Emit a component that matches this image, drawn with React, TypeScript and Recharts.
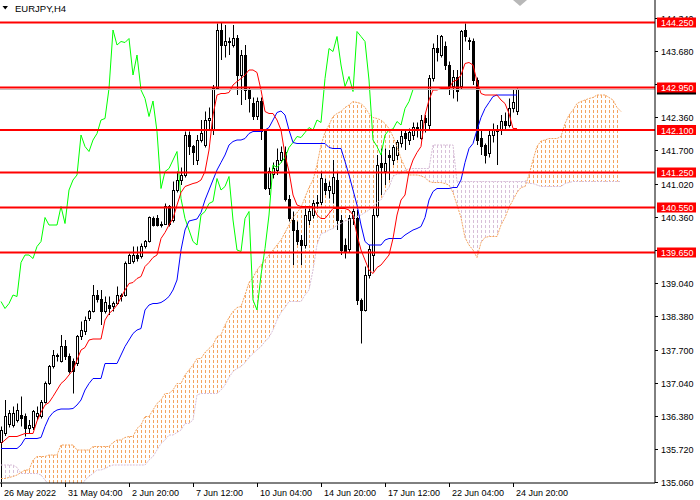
import React from 'react'
import { ComposedChart, Bar, Area, Line, XAxis, YAxis, ReferenceLine } from 'recharts'

// EURJPY H4: candles + Ichimoku (9/26/52), horizontal levels

const opens = [
  135.85, 136.03, 136.23, 136.2, 136.3, 136.4, 136.37, 136.13, 136.17, 136.37,
  136.37, 136.67, 137.03, 137.37, 137.6, 137.47, 137.78, 137.57, 137.47, 137.43,
  137.97, 138.07, 138.33, 138.47, 138.8, 138.73, 138.47, 138.6, 138.57, 138.63,
  138.8, 138.8, 139.45, 139.47, 139.6, 139.57, 139.77, 139.87, 140.33, 140.33,
  140.23, 140.23, 140.57, 140.3, 140.9, 141.1, 141.2, 142.0, 141.77, 141.5,
  141.9, 141.8, 142.3, 142.1, 142.93, 144.1, 143.8, 143.87, 143.8, 143.93,
  143.2, 143.6, 142.9, 142.63, 142.37, 142.68, 142.07, 140.93, 141.23, 141.3,
  141.5, 141.67, 140.73, 140.3, 140.1, 139.9, 139.8, 140.3, 140.4, 140.63,
  140.67, 141.03, 140.9, 140.83, 141.1, 140.3, 139.8, 139.73, 140.33, 140.33,
  138.7, 138.5, 139.2, 139.6, 140.4, 141.45, 141.27, 141.6, 141.5, 141.6,
  141.83, 142.03, 141.9, 142.0, 142.17, 141.95, 142.33, 142.2, 143.13, 143.73,
  143.6, 143.77, 143.4, 142.97, 143.17, 142.97, 144.1, 143.9, 143.87, 143.1,
  141.93, 141.8, 141.63, 142.0, 142.07, 142.1, 142.27, 142.2, 142.53, 142.47,
]
const highs = [
  136.17, 136.7, 136.5, 136.57, 136.63, 136.77, 136.43, 136.3, 136.5, 136.57,
  136.7, 137.07, 137.4, 137.7, 137.63, 138.0, 137.9, 137.63, 137.53, 138.0,
  138.27, 138.37, 138.5, 139.0, 138.9, 138.9, 138.77, 138.77, 138.67, 138.97,
  138.83, 139.47, 139.63, 139.77, 139.77, 139.83, 139.9, 140.37, 140.37, 140.4,
  140.27, 140.63, 140.6, 141.07, 141.27, 141.35, 142.07, 142.07, 141.8, 142.0,
  142.3, 142.47, 142.55, 143.0, 144.23, 144.25, 144.2, 143.95, 144.2, 144.0,
  143.7, 143.8, 142.95, 142.75, 142.75, 142.75, 142.1, 141.35, 141.45, 141.73,
  141.77, 141.77, 140.8, 140.47, 140.27, 140.0, 140.53, 140.53, 140.7, 140.8,
  141.27, 141.13, 141.07, 141.5, 141.25, 140.4, 139.93, 140.4, 140.53, 140.5,
  138.73, 139.37, 139.8, 140.53, 141.6, 141.73, 141.73, 141.7, 141.8, 141.9,
  142.1, 142.1, 142.13, 142.25, 142.25, 142.4, 142.4, 143.2, 143.83, 144.0,
  144.0, 143.87, 143.47, 143.3, 143.3, 144.1, 144.23, 143.95, 143.93, 143.15,
  142.1, 141.83, 142.1, 142.23, 142.2, 142.4, 142.45, 142.73, 142.9, 142.93,
]
const lows = [
  135.05, 135.98, 136.15, 136.15, 136.25, 136.17, 135.97, 136.03, 136.1, 136.3,
  136.33, 136.63, 137.0, 137.33, 137.47, 137.45, 137.5, 137.23, 136.83, 137.38,
  137.9, 138.0, 138.28, 138.45, 138.65, 138.2, 138.43, 138.4, 138.47, 138.6,
  138.67, 138.77, 139.42, 139.43, 139.47, 139.53, 139.73, 139.85, 140.17, 140.17,
  140.15, 140.2, 140.17, 140.25, 140.85, 141.0, 141.15, 141.6, 141.4, 141.4,
  141.85, 141.75, 142.1, 142.0, 142.9, 143.5, 143.55, 143.6, 143.75, 142.8,
  142.6, 142.7, 142.45, 142.3, 142.3, 141.9, 140.9, 140.8, 141.13, 141.2,
  141.45, 140.67, 140.27, 139.4, 139.8, 139.4, 139.73, 140.2, 140.33, 140.53,
  140.6, 140.8, 140.73, 140.63, 140.1, 139.6, 139.53, 139.65, 140.2, 138.6,
  137.83, 138.47, 139.13, 139.27, 140.35, 140.8, 141.0, 141.1, 141.4, 141.5,
  141.75, 141.7, 141.8, 141.9, 141.95, 141.9, 142.05, 142.1, 143.07, 143.47,
  143.55, 143.3, 142.8, 142.73, 142.67, 142.9, 143.87, 143.7, 143.0, 141.8,
  141.6, 141.43, 141.55, 141.85, 141.4, 142.0, 142.1, 142.15, 142.45, 142.4,
]
const closes = [
  136.1, 136.37, 136.43, 136.43, 136.5, 136.33, 136.13, 136.2, 136.47, 136.43,
  136.67, 137.03, 137.37, 137.6, 137.57, 137.77, 137.57, 137.27, 137.27, 137.97,
  138.1, 138.3, 138.47, 138.8, 138.73, 138.47, 138.67, 138.53, 138.63, 138.8,
  138.77, 139.45, 139.6, 139.6, 139.53, 139.77, 139.87, 140.35, 140.2, 140.2,
  140.2, 140.57, 140.23, 140.9, 141.1, 141.2, 142.0, 141.77, 141.67, 141.9,
  142.03, 142.3, 142.33, 142.93, 144.1, 143.8, 143.87, 143.85, 143.93, 143.2,
  143.6, 142.9, 142.73, 142.37, 142.68, 142.07, 140.93, 141.27, 141.33, 141.5,
  141.67, 140.73, 140.33, 140.1, 139.87, 139.8, 140.4, 140.47, 140.63, 140.67,
  141.13, 140.9, 140.97, 141.17, 140.3, 139.7, 139.67, 140.33, 140.47, 138.7,
  138.5, 139.2, 139.73, 140.4, 141.4, 141.35, 141.45, 141.55, 141.75, 141.85,
  141.97, 141.95, 142.05, 142.15, 142.1, 142.3, 142.25, 143.13, 143.73, 143.67,
  143.97, 143.4, 142.97, 143.17, 142.87, 144.07, 143.97, 143.87, 143.1, 141.9,
  141.77, 141.6, 142.0, 142.1, 142.12, 142.27, 142.2, 142.53, 142.67, 142.91,
]

const tenkan = [
  135.83, 135.9, 135.97, 135.97, 135.97, 136.0, 136.03, 136.03, 136.03, 136.28,
  136.45, 136.6, 136.65, 136.77, 136.9, 137.03, 137.1, 137.2, 137.3, 137.5,
  137.7, 137.75, 137.9, 137.92, 137.92, 137.92, 138.3, 138.43, 138.5, 138.6,
  138.75, 138.9, 139.03, 139.05, 139.13, 139.17, 139.37, 139.45, 139.55, 139.6,
  139.93, 140.05, 140.2, 140.33, 140.6, 140.85, 140.97, 141.0, 141.03, 141.05,
  141.1, 141.27, 141.7, 142.4, 142.8, 142.83, 142.83, 142.85, 143.0, 143.07,
  143.13, 143.2, 143.3, 143.3, 143.25, 142.9, 142.47, 142.43, 142.43, 142.3,
  142.1, 141.6, 141.27, 140.8, 140.6, 140.57, 140.57, 140.57, 140.57, 140.4,
  140.33, 140.33, 140.43, 140.53, 140.53, 140.53, 140.53, 140.5, 140.4, 140.0,
  139.7, 139.5, 139.3, 139.23, 139.35, 139.4, 139.5, 139.6, 139.93, 140.4,
  140.7, 140.8, 141.27, 141.5, 141.65, 141.77, 142.4, 142.7, 142.9, 142.9,
  142.93, 142.93, 142.93, 143.07, 143.1, 143.2, 143.43, 143.45, 143.4, 143.07,
  142.83, 142.8, 142.8, 142.8, 142.8, 142.7, 142.63, 142.43, 142.13, 142.13,
]
const kijun = [
  135.73, 135.73, 135.73, 135.73, 135.73, 135.8, 135.93, 135.93, 135.93, 135.93,
  135.95, 136.17, 136.35, 136.45, 136.5, 136.52, 136.52, 136.52, 136.53, 136.6,
  136.7, 136.9, 137.03, 137.13, 137.13, 137.13, 137.43, 137.43, 137.43, 137.43,
  137.6, 137.77, 137.9, 138.03, 138.1, 138.13, 138.5, 138.6, 138.63, 138.63,
  138.65, 138.7, 138.77, 138.9, 139.1, 139.7, 140.1, 140.28, 140.3, 140.32,
  140.45, 140.7, 140.9, 141.1, 141.3, 141.45, 141.6, 141.8, 141.87, 141.9,
  141.9, 141.93, 142.03, 142.07, 142.07, 142.07, 142.1, 142.15, 142.3, 142.45,
  142.48, 142.4, 142.1, 141.85, 141.83, 141.83, 141.83, 141.83, 141.83, 141.83,
  141.83, 141.83, 141.75, 141.73, 141.73, 141.73, 141.47, 141.2, 140.9, 140.6,
  140.2, 139.87, 139.8, 139.8, 139.8, 139.8, 139.9, 139.93, 139.93, 139.93,
  139.93, 140.0, 140.05, 140.1, 140.13, 140.17, 140.35, 140.7, 140.87, 140.93,
  140.93, 140.93, 140.93, 140.95, 140.95, 141.1, 141.45, 141.73, 141.83, 142.1,
  142.35, 142.53, 142.65, 142.77, 142.8, 142.8, 142.8, 142.8, 142.8, 142.8,
]
// lagging span, plotted 26 bars back
const chikou = [
  138.67, 138.53, 138.63, 138.8, 138.77, 139.45, 139.6, 139.6, 139.53, 139.77,
  139.87, 140.35, 140.2, 140.2, 140.2, 140.57, 140.23, 140.9, 141.1, 141.2,
  142.0, 141.77, 141.67, 141.9, 142.03, 142.3, 142.33, 142.93, 144.1, 143.8,
  143.87, 143.85, 143.93, 143.2, 143.6, 142.9, 142.73, 142.37, 142.68, 142.07,
  140.93, 141.27, 141.33, 141.5, 141.67, 140.73, 140.33, 140.1, 139.87, 139.8,
  140.4, 140.47, 140.63, 140.67, 141.13, 140.9, 140.97, 141.17, 140.3, 139.7,
  139.67, 140.33, 140.47, 138.7, 138.5, 139.2, 139.73, 140.4, 141.4, 141.35,
  141.45, 141.55, 141.75, 141.85, 141.97, 141.95, 142.05, 142.15, 142.1, 142.3,
  142.25, 143.13, 143.73, 143.67, 143.97, 143.4, 142.97, 143.17, 142.87, 144.07,
  143.97, 143.87, 143.1, 141.9, 141.77, 141.6, 142.0, 142.1, 142.12, 142.27,
  142.2, 142.53, 142.67, 142.91,
]
// leading spans, plotted 26 bars ahead
const spanA = [
  135.13, 135.13, 135.15, 135.17, 135.2, 135.25, 135.3, 135.3, 135.5, 135.57,
  135.57, 135.57, 135.6, 135.6, 135.6, 135.8, 135.8, 135.8, 135.8, 135.7,
  135.7, 135.7, 135.7, 135.77, 135.77, 135.77, 135.77, 135.77, 135.85, 135.9,
  135.9, 135.95, 135.97, 135.97, 136.13, 136.2, 136.37, 136.37, 136.5, 136.63,
  136.7, 136.83, 136.83, 136.9, 137.03, 137.03, 137.2, 137.3, 137.4, 137.53,
  137.53, 137.65, 137.73, 137.8, 137.97, 138.0, 138.2, 138.35, 138.47, 138.55,
  138.57, 138.8, 139.05, 139.15, 139.3, 139.4, 139.5, 139.6, 139.7, 139.8,
  139.9, 140.05, 140.2, 140.35, 140.45, 140.55, 140.75, 140.95, 141.1, 141.4,
  141.8, 142.05, 142.2, 142.37, 142.43, 142.47, 142.55, 142.6, 142.67, 142.65,
  142.63, 142.55, 142.43, 142.35, 142.33, 142.3, 142.23, 142.13, 141.97, 141.77,
  141.53, 141.35, 141.2, 141.2, 141.2, 141.18, 141.15, 141.07, 141.05, 141.05,
  141.05, 141.03, 141.0, 140.85, 140.6, 140.35, 139.95, 139.8, 139.7, 139.55,
  139.85, 139.95, 139.97, 139.97, 139.97, 140.2, 140.35, 140.55, 140.7, 140.85,
  140.95, 140.97, 141.2, 141.5, 141.77, 141.88, 141.9, 141.93, 141.93, 141.93,
  141.97, 142.23, 142.4, 142.5, 142.63, 142.67, 142.7, 142.73, 142.75, 142.8,
  142.8, 142.8, 142.75, 142.7, 142.55, 142.47,
]
const spanB = [
  135.4, 135.4, 135.4, 135.4, 135.35, 135.23, 135.23, 135.23, 135.23, 135.23,
  135.2, 135.1, 135.0, 134.9, 134.9, 134.9, 134.9, 134.9, 134.9, 134.9,
  134.95, 135.1, 135.17, 135.23, 135.3, 135.3, 135.33, 135.37, 135.4, 135.4,
  135.4, 135.4, 135.4, 135.4, 135.4, 135.4, 135.4, 135.5, 135.57, 135.7,
  135.83, 135.9, 136.0, 136.0, 136.05, 136.1, 136.23, 136.23, 136.3, 136.8,
  136.83, 136.83, 136.83, 136.83, 136.83, 136.9, 137.0, 137.15, 137.27, 137.33,
  137.37, 137.45, 137.55, 137.63, 137.7, 137.77, 137.87, 137.95, 138.1, 138.3,
  138.45, 138.55, 138.67, 138.67, 138.67, 138.67, 138.8, 138.9, 139.3, 139.8,
  140.03, 140.05, 140.1, 140.13, 140.2, 140.23, 140.28, 140.3, 140.35, 140.37,
  140.4, 140.45, 140.5, 140.57, 140.65, 140.7, 140.85, 140.95, 141.17, 141.22,
  141.23, 141.3, 141.32, 141.33, 141.33, 141.33, 141.33, 141.33, 141.8, 141.8,
  141.8, 141.8, 141.8, 141.8, 141.07, 141.07, 141.07, 141.07, 141.07, 141.07,
  141.07, 141.07, 141.07, 141.07, 141.07, 141.07, 141.07, 141.07, 141.07, 141.07,
  141.07, 141.07, 141.03, 141.03, 141.0, 140.97, 140.97, 140.97, 140.97, 140.97,
  140.97, 141.03, 141.05, 141.07, 141.07, 141.07, 141.07, 141.07, 141.07, 141.07,
  141.07, 141.07, 141.07, 141.07, 141.07, 141.07,
]

const levels = [144.25, 142.95, 142.1, 141.25, 140.55, 139.65]
const lastPrice = 142.91
const priceTicks = [
  144.34, 143.68, 143.02, 142.36, 141.7, 141.02, 140.36, 139.7,
  139.04, 138.38, 137.7, 137.04, 136.38, 135.72, 135.06,
]
// labels fully covered by a level tag in the original
const hiddenTicks = [143.02, 139.7]
const timeIdx = [0, 16, 32, 48, 64, 80, 96, 112, 128]
const timeLabels = [
  '26 May 2022', '31 May 04:00', '2 Jun 20:00', '7 Jun 12:00', '10 Jun 04:00',
  '14 Jun 20:00', '17 Jun 12:00', '22 Jun 04:00', '24 Jun 20:00',
]

const FONT = '"Liberation Sans", Arial, sans-serif'
const X_DOMAIN: [number, number] = [-0.25, 163.5]
const PLOT_RIGHT = 655
const PLOT_BOTTOM = 483
const UP_CLOUD = '#F4A460'
const DN_CLOUD = '#D8BFD8'

// cloud runs share the crossing bar so the hatching has no hole there
const rows = spanA.map((a, i) => {
  const b = spanB[i]
  const has = i < closes.length
  const prevUp = i > 0 ? spanA[i - 1] >= spanB[i - 1] : a >= b
  const nextUp = i < spanA.length - 1 ? spanA[i + 1] >= spanB[i + 1] : a >= b
  const up = a >= b
  const range = [Math.min(a, b), Math.max(a, b)]
  return {
    i,
    candle: has ? [lows[i], highs[i]] : null,
    o: has ? opens[i] : null,
    h: has ? highs[i] : null,
    l: has ? lows[i] : null,
    c: has ? closes[i] : null,
    tenkan: i < tenkan.length ? tenkan[i] : null,
    kijun: i < kijun.length ? kijun[i] : null,
    chikou: i < chikou.length ? chikou[i] : null,
    a,
    b,
    cloudUp: up || prevUp || nextUp ? range : null,
    cloudDn: !up || !prevUp || !nextUp ? range : null,
  }
})

function Candle(props: any) {
  const { x, y, width, height, payload } = props
  if (!payload || payload.candle == null || !isFinite(y)) return <g />
  const top = Math.min(y, y + height)
  const bot = Math.max(y, y + height)
  const span = payload.h - payload.l
  const py = (v: number) => (span > 0 ? top + ((payload.h - v) / span) * (bot - top) : top)
  const cx = Math.round(x + width / 2)
  const yo = py(payload.o)
  const yc = py(payload.c)
  const up = payload.c >= payload.o
  const bt = Math.round(Math.min(yo, yc))
  const bb = Math.round(Math.max(yo, yc))
  return (
    <g>
      <line x1={cx + 0.5} x2={cx + 0.5} y1={top} y2={bot} stroke="#000" strokeWidth={1} />
      <rect
        x={cx - 0.5}
        y={bt + 0.5}
        width={2}
        height={Math.max(bb - bt, 1)}
        fill={up ? '#fff' : '#000'}
        stroke="#000"
        strokeWidth={1}
      />
    </g>
  )
}

function PriceTick(props: any) {
  const { y, payload } = props
  const x = PLOT_RIGHT
  const v = payload.value
  const t = v.toFixed(3)
  if (levels.includes(v)) {
    return (
      <g>
        <rect x={x + 2} y={y - 5} width={39} height={10} fill="#ff0000" />
        <text x={x + 6} y={y + 3.5} fill="#fff" fontSize={9} fontFamily={FONT}>{t}</text>
      </g>
    )
  }
  if (v === lastPrice) {
    return <rect x={x + 2} y={y - 5} width={39} height={10} fill="#000" />
  }
  return (
    <g>
      <line x1={x} x2={x + 3} y1={y + 0.5} y2={y + 0.5} stroke="#000" />
      {!hiddenTicks.includes(v) && (
        <text x={x + 6} y={y + 3.5} fill="#000" fontSize={9} fontFamily={FONT}>{t}</text>
      )}
    </g>
  )
}

function TimeTick(props: any) {
  const { x, payload } = props
  const y = PLOT_BOTTOM
  const k = timeIdx.indexOf(payload.value)
  if (k < 0) return <g />
  const tx = Math.round(x) + 0.5
  return (
    <g>
      <line x1={tx} x2={tx} y1={y} y2={y + 4} stroke="#000" />
      <text x={x + 3} y={y + 13} fill="#000" fontSize={9} fontFamily={FONT}>{timeLabels[k]}</text>
    </g>
  )
}

export default function App() {
  return (
    <div style={{ position: 'relative', width: 700, height: 500, background: '#fff' }}>
      <style>{'body{margin:0}'}</style>
      <svg width={0} height={0} style={{ position: 'absolute' }}>
        <defs>
          <pattern id="hatchUp" x={0} y={0} width={4} height={5} patternUnits="userSpaceOnUse">
            <rect x={1} y={0} width={1} height={3} fill={UP_CLOUD} />
          </pattern>
          <pattern id="hatchDn" x={0} y={0} width={4} height={5} patternUnits="userSpaceOnUse">
            <rect x={1} y={0} width={1} height={3} fill={DN_CLOUD} />
          </pattern>
        </defs>
      </svg>
      <ComposedChart width={700} height={500} data={rows} margin={{ top: 0, right: 0, bottom: 0, left: 0 }}>
        <XAxis
          xAxisId="t"
          type="number"
          dataKey="i"
          domain={X_DOMAIN}
          ticks={timeIdx}
          interval={0}
          height={17}
          tickSize={0}
          tickMargin={0}
          tickLine={false}
          axisLine={{ stroke: '#000' }}
          tick={(p: any) => <TimeTick {...p} />}
          allowDataOverflow
        />
        <YAxis
          yAxisId="p"
          orientation="right"
          type="number"
          domain={[135.04, 144.7]}
          ticks={[...priceTicks, lastPrice, ...levels]}
          interval={0}
          width={45}
          tickSize={0}
          tickMargin={0}
          tickLine={false}
          axisLine={{ stroke: '#000' }}
          tick={(p: any) => <PriceTick {...p} />}
          allowDataOverflow
        />
        <Bar xAxisId="t" yAxisId="p" dataKey="candle" barSize={3} shape={(p: any) => <Candle {...p} />} isAnimationActive={false} />
        <Area xAxisId="t" yAxisId="p" dataKey="cloudUp" type="linear" stroke="none" fill="url(#hatchUp)" fillOpacity={1} connectNulls={false} dot={false} activeDot={false} isAnimationActive={false} />
        <Area xAxisId="t" yAxisId="p" dataKey="cloudDn" type="linear" stroke="none" fill="url(#hatchDn)" fillOpacity={1} connectNulls={false} dot={false} activeDot={false} isAnimationActive={false} />
        <Line xAxisId="t" yAxisId="p" dataKey="a" stroke={UP_CLOUD} strokeWidth={1} strokeDasharray="2 1" dot={false} activeDot={false} isAnimationActive={false} />
        <Line xAxisId="t" yAxisId="p" dataKey="b" stroke={DN_CLOUD} strokeWidth={1} strokeDasharray="2 1" dot={false} activeDot={false} isAnimationActive={false} />
        <Line xAxisId="t" yAxisId="p" dataKey="chikou" stroke="#00FF00" strokeWidth={1} dot={false} activeDot={false} isAnimationActive={false} />
        <Line xAxisId="t" yAxisId="p" dataKey="kijun" stroke="#0000FF" strokeWidth={1} dot={false} activeDot={false} isAnimationActive={false} />
        <Line xAxisId="t" yAxisId="p" dataKey="tenkan" stroke="#FF0000" strokeWidth={1} dot={false} activeDot={false} isAnimationActive={false} />
        <ReferenceLine xAxisId="t" yAxisId="p" y={lastPrice} stroke="#C0C0C0" strokeWidth={1} />
        {levels.map((v) => (
          <ReferenceLine key={v} xAxisId="t" yAxisId="p" y={v} stroke="#FF0000" strokeWidth={2} />
        ))}
      </ComposedChart>
      <svg width={700} height={20} style={{ position: 'absolute', left: 0, top: 0, pointerEvents: 'none' }}>
        <polygon points="2.5,6 8,6 5.25,9.5" fill="#000" />
        <text x={15} y={11.5} fontSize={9.5} fontFamily={FONT} fill="#000">EURJPY,H4</text>
        <polygon points="513,0 527,0 520,6" fill="#B8B8B8" />
      </svg>
    </div>
  )
}
